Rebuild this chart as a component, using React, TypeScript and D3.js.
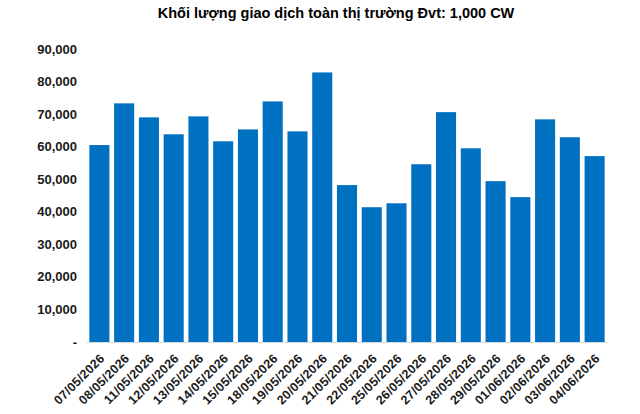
import { useMemo } from 'react';
import * as d3 from 'd3';

const WIDTH = 640;
const HEIGHT = 414;
const MARGIN = { top: 49, right: 33, bottom: 72, left: 87 };

const TITLE = 'Khối lượng giao dịch toàn thị trường Đvt: 1,000 CW';

const dates = [
  '07/05/2026', '08/05/2026', '11/05/2026', '12/05/2026', '13/05/2026',
  '14/05/2026', '15/05/2026', '18/05/2026', '19/05/2026', '20/05/2026',
  '21/05/2026', '22/05/2026', '25/05/2026', '26/05/2026', '27/05/2026',
  '28/05/2026', '29/05/2026', '01/06/2026', '02/06/2026', '03/06/2026',
  '04/06/2026',
];

const volumes = [
  60500, 73300, 69000, 63800, 69300,
  61650, 65300, 73900, 64700, 82800,
  48200, 41400, 42600, 54600, 70600,
  59500, 49400, 44500, 68400, 62900,
  57100,
];

const yTicks = [0, 10000, 20000, 30000, 40000, 50000, 60000, 70000, 80000, 90000];

const FONT = 'Liberation Sans, Arial, sans-serif';
const BAR_COLOR = '#0070C0';

export default function App() {
  const innerWidth = WIDTH - MARGIN.left - MARGIN.right;
  const innerHeight = HEIGHT - MARGIN.top - MARGIN.bottom;

  const x = useMemo(
    () => d3.scaleBand<string>().domain(dates).range([0, innerWidth]).paddingInner(0.19).paddingOuter(0.095),
    [innerWidth]
  );
  const y = useMemo(() => d3.scaleLinear().domain([0, 90000]).range([innerHeight, 0]), [innerHeight]);

  const fmt = d3.format(',');

  return (
    <svg
      width={WIDTH}
      height={HEIGHT}
      viewBox={`0 0 ${WIDTH} ${HEIGHT}`}
      style={{ position: 'absolute', left: 0, top: 0, background: '#fff' }}
      fontFamily={FONT}
    >
      <text x={336} y={17.5} textAnchor="middle" fontSize={14.5} fontWeight="bold" fill="#000">
        {TITLE}
      </text>
      <g transform={`translate(${MARGIN.left},${MARGIN.top})`}>
        {/* y axis labels */}
        {yTicks.map((t) => (
          <text
            key={t}
            x={-10}
            y={y(t)}
            dy="0.35em"
            textAnchor="end"
            fontSize={13}
            fontWeight="bold"
            fill="#1a1a1a"
          >
            {t === 0 ? '-' : fmt(t)}
          </text>
        ))}

        {/* bars */}
        {dates.map((d, i) => (
          <rect
            key={d}
            x={x(d)}
            y={y(volumes[i])}
            width={x.bandwidth()}
            height={innerHeight - y(volumes[i])}
            fill={BAR_COLOR}
          />
        ))}

        {/* baseline */}
        <line x1={-1} x2={innerWidth} y1={innerHeight + 0.5} y2={innerHeight + 0.5} stroke="#d9d9d9" strokeWidth={1} />

        {/* x labels */}
        {dates.map((d) => {
          const cx = (x(d) ?? 0) + x.bandwidth() / 2;
          return (
            <text
              key={d}
              transform={`translate(${cx + 6},${innerHeight + 17}) rotate(-45)`}
              textAnchor="end"
              fontSize={12.5}
              fontWeight="bold"
              letterSpacing={0.3}
              fill="#1a1a1a"
            >
              {d}
            </text>
          );
        })}
      </g>
    </svg>
  );
}
